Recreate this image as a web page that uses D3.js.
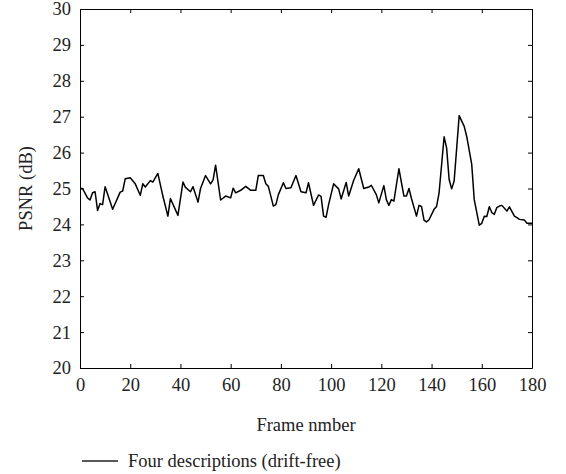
<!DOCTYPE html>
<html>
<head>
<meta charset="utf-8">
<script src="https://cdn.jsdelivr.net/npm/d3@7"></script>
<style>
  body { margin: 0; background: #fff; }
  svg { display: block; }
  .axis text { font-family: "Liberation Serif", "DejaVu Serif", serif; font-size: 18.5px; fill: #222; }
  .axis path, .axis line { stroke: #000; }
  .label { font-family: "Liberation Serif", "DejaVu Serif", serif; font-size: 18.5px; fill: #222; }
</style>
</head>
<body>
<div id="chart"></div>
<script>
// frame numbers and PSNR values (dB)
const frames = [
  0, 1, 3, 4, 5, 6, 7, 8, 9, 10, 13, 16, 17, 18, 20, 22, 24, 25, 26, 28,
  29, 31, 33, 35, 36, 39, 41, 42, 44, 45, 47, 48, 50, 52, 53, 54, 56, 58, 60, 61,
  62, 64, 66, 68, 70, 71, 73, 74, 75, 77, 78, 79, 81, 82, 84, 86, 88, 90, 91, 93,
  95, 96, 97, 98, 99, 101, 102, 103, 104, 106, 107, 109, 111, 113, 115, 116, 118, 119, 121, 122,
  123, 124, 125, 127, 129, 130, 131, 132, 134, 135, 136, 137, 138, 139, 141, 142, 143, 145, 146, 147,
  148, 149, 151, 153, 154, 156, 157, 159, 160, 161, 162, 163, 164, 165, 166, 167, 168, 170, 171, 173,
  174, 175, 177, 178, 180
];
const psnr = [
  25.00, 25.00, 24.74, 24.68, 24.88, 24.91, 24.39, 24.58, 24.55, 25.05, 24.42, 24.90, 24.93, 25.27, 25.30, 25.13, 24.81, 25.13, 25.04, 25.22,
  25.18, 25.42, 24.79, 24.23, 24.72, 24.25, 25.18, 25.03, 24.91, 25.05, 24.62, 25.00, 25.36, 25.13, 25.24, 25.65, 24.68, 24.79, 24.74, 25.01,
  24.88, 24.95, 25.06, 24.95, 24.95, 25.36, 25.36, 25.13, 25.06, 24.51, 24.55, 24.83, 25.16, 25.00, 25.02, 25.36, 24.91, 24.88, 25.16, 24.53,
  24.82, 24.78, 24.23, 24.20, 24.55, 25.13, 25.06, 24.99, 24.71, 25.17, 24.79, 25.23, 25.55, 25.00, 25.04, 25.09, 24.83, 24.60, 25.08, 24.69,
  24.53, 24.69, 24.65, 25.55, 24.79, 24.79, 25.00, 24.72, 24.23, 24.53, 24.50, 24.12, 24.07, 24.13, 24.42, 24.50, 24.88, 26.44, 26.13, 25.25,
  24.99, 25.21, 27.03, 26.73, 26.45, 25.67, 24.69, 23.98, 24.03, 24.23, 24.22, 24.49, 24.33, 24.28, 24.47, 24.51, 24.53, 24.37, 24.49, 24.23,
  24.19, 24.14, 24.12, 24.03, 24.03
];
const xTicks = [0, 20, 40, 60, 80, 100, 120, 140, 160, 180];
const yTicks = [20, 21, 22, 23, 24, 25, 26, 27, 28, 29, 30];
const seriesName = 'Four descriptions (drift-free)';

const width = 566;
const height = 474;
const margin = { top: 9, right: 34, bottom: 106, left: 80 };
const plotW = width - margin.left - margin.right;
const plotH = height - margin.top - margin.bottom;

const svg = d3.select('#chart')
  .append('svg')
  .attr('width', width)
  .attr('height', height);

const g = svg.append('g')
  .attr('transform', `translate(${margin.left},${margin.top})`);

const x = d3.scaleLinear().domain([0, 180]).range([0, plotW]);
const y = d3.scaleLinear().domain([20, 30]).range([plotH, 0]);

// axes with inward ticks on all four sides
g.append('g')
  .attr('class', 'axis')
  .attr('transform', `translate(0,${plotH})`)
  .call(d3.axisBottom(x).tickValues(xTicks).tickSizeInner(-4).tickSizeOuter(0).tickPadding(10));

g.append('g')
  .attr('class', 'axis')
  .call(d3.axisTop(x).tickValues(xTicks).tickSizeInner(-4).tickSizeOuter(0).tickFormat(''));

g.append('g')
  .attr('class', 'axis')
  .call(d3.axisLeft(y).tickValues(yTicks).tickSizeInner(-4).tickSizeOuter(0).tickPadding(9));

g.append('g')
  .attr('class', 'axis')
  .attr('transform', `translate(${plotW},0)`)
  .call(d3.axisRight(y).tickValues(yTicks).tickSizeInner(-4).tickSizeOuter(0).tickFormat(''));

const line = d3.line()
  .x((d, i) => x(frames[i]))
  .y(d => y(d));

g.append('path')
  .datum(psnr)
  .attr('fill', 'none')
  .attr('stroke', '#000')
  .attr('stroke-width', 1.5)
  .attr('stroke-linejoin', 'round')
  .attr('d', line);

// axis titles
g.append('text')
  .attr('class', 'label')
  .attr('x', plotW / 2)
  .attr('y', plotH + 63)
  .attr('text-anchor', 'middle')
  .text('Frame nmber');

g.append('text')
  .attr('class', 'label')
  .attr('transform', `translate(${-48},${plotH / 2}) rotate(-90)`)
  .attr('text-anchor', 'middle')
  .text('PSNR (dB)');

// legend
const legend = svg.append('g')
  .attr('transform', `translate(82,${height - 13})`);

legend.append('line')
  .attr('x1', 0)
  .attr('x2', 36)
  .attr('y1', 0)
  .attr('y2', 0)
  .attr('stroke', '#222')
  .attr('stroke-width', 1.3);

legend.append('text')
  .attr('class', 'label')
  .attr('x', 46)
  .attr('y', 0)
  .attr('dy', '0.32em')
  .text(seriesName);
</script>
</body>
</html>
